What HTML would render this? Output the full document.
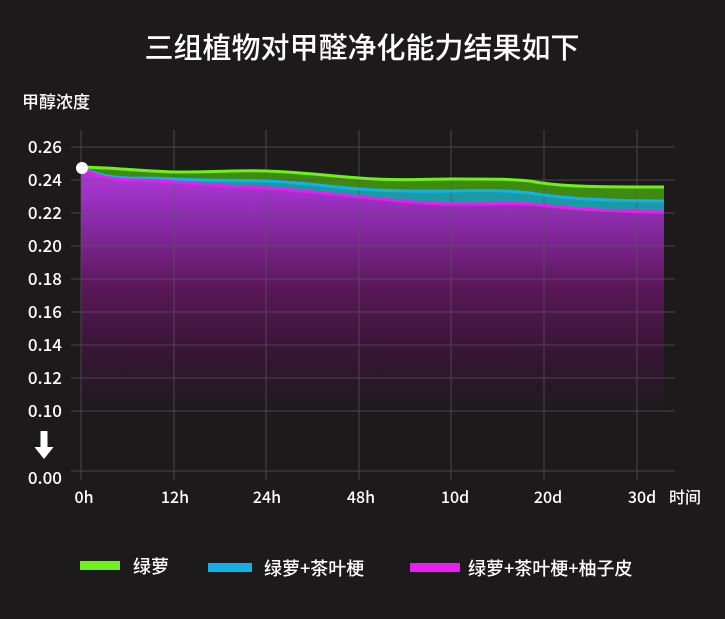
<!DOCTYPE html><html><head><meta charset="utf-8"><style>
html,body{margin:0;padding:0;background:#1c1a1b;width:725px;height:619px;overflow:hidden}
svg{display:block}
svg text{font-family:"Noto Sans CJK SC","Liberation Sans",sans-serif;fill:#fff}
</style></head><body>
<svg width="725" height="619" viewBox="0 0 725 619">
<defs>
<linearGradient id="pg" x1="0" y1="0" x2="0" y2="1">
<stop offset="0" stop-color="#b33be0"/><stop offset="0.2" stop-color="#8e2cb0"/><stop offset="0.5" stop-color="#5a1758"/><stop offset="0.8" stop-color="#321630"/><stop offset="1" stop-color="#1f1a20"/>
</linearGradient></defs>
<rect width="725" height="619" fill="#1c1a1b"/>
<text x="362" y="58" font-size="29" font-weight="500" text-anchor="middle">三组植物对甲醛净化能力结果如下</text>
<text x="22" y="108" font-size="17" font-weight="500">甲醇浓度</text>
<path d="M81,167 C120,168 140,171 174,172 C220,172 240,170 266,171 C300,172 330,176 359,178 C400,181 430,179 451,179 C500,179 510,179 530,181 C560,187 600,187 664,187 L664,410 L81,410Z" fill="#3f8a10"/>
<path d="M81,167 C95,174 105,177 130,178 C150,178 160,178 174,179 C220,181 240,180 266,181 C300,182 330,187 359,189 C400,192 430,191 451,191 C500,190 510,191 530,193 C560,198 600,201 664,201 L664,410 L81,410Z" fill="#1a9aa4"/>
<path d="M81,167 C95,176 105,179 130,180 C150,180 160,181 174,182 C220,186 240,187 266,188 C300,190 330,194 359,197 C400,201 430,204 451,204 C500,204 510,203 530,204 C560,207 600,212 664,212 L664,410 L81,410Z" fill="url(#pg)"/>
<g stroke="#5a585a" stroke-width="1" opacity="0.7">
<line x1="71" x2="675" y1="147" y2="147"/><line x1="71" x2="675" y1="180" y2="180"/><line x1="71" x2="675" y1="213" y2="213"/><line x1="71" x2="675" y1="246" y2="246"/><line x1="71" x2="675" y1="279" y2="279"/><line x1="71" x2="675" y1="312" y2="312"/><line x1="71" x2="675" y1="345" y2="345"/><line x1="71" x2="675" y1="378" y2="378"/><line x1="71" x2="675" y1="411" y2="411"/><line x1="71" x2="675" y1="471" y2="471"/>
<line x1="81" x2="81" y1="130" y2="480"/><line x1="174" x2="174" y1="130" y2="480"/><line x1="266" x2="266" y1="130" y2="480"/><line x1="359" x2="359" y1="130" y2="480"/><line x1="451" x2="451" y1="130" y2="480"/><line x1="544" x2="544" y1="130" y2="480"/><line x1="637" x2="637" y1="130" y2="480"/>
</g>
<path d="M81,167 C120,168 140,171 174,172 C220,172 240,170 266,171 C300,172 330,176 359,178 C400,181 430,179 451,179 C500,179 510,179 530,181 C560,187 600,187 664,187" fill="none" stroke="#6ef01a" stroke-width="3"/>
<path d="M81,167 C95,174 105,177 130,178 C150,178 160,178 174,179 C220,181 240,180 266,181 C300,182 330,187 359,189 C400,192 430,191 451,191 C500,190 510,191 530,193 C560,198 600,201 664,201" fill="none" stroke="#16b0e8" stroke-width="3"/>
<path d="M81,167 C95,176 105,179 130,180 C150,180 160,181 174,182 C220,186 240,187 266,188 C300,190 330,194 359,197 C400,201 430,204 451,204 C500,204 510,203 530,204 C560,207 600,212 664,212" fill="none" stroke="#e81ef0" stroke-width="3"/>
<circle cx="82" cy="168" r="6" fill="#fff"/>
<g font-size="17" text-anchor="end" font-weight="500">
<text x="62" y="153">0.26</text><text x="62" y="186">0.24</text><text x="62" y="219">0.22</text><text x="62" y="252">0.20</text><text x="62" y="285">0.18</text><text x="62" y="318">0.16</text><text x="62" y="351">0.14</text><text x="62" y="384">0.12</text><text x="62" y="417">0.10</text><text x="62" y="484">0.00</text>
</g>
<path d="M40.5,431 h7 v16 h6 l-9.5,12 l-9.5,-12 h6z" fill="#fff"/>
<g font-size="16" text-anchor="middle" font-weight="500">
<text x="84" y="503">0h</text><text x="175" y="503">12h</text><text x="267" y="503">24h</text><text x="361" y="503">48h</text><text x="455" y="503">10d</text><text x="548" y="503">20d</text><text x="642" y="503">30d</text>
</g>
<text x="669" y="503" font-size="16" font-weight="500">时间</text>
<rect x="80" y="561" width="40" height="9" fill="#6ef01a"/>
<rect x="208" y="563" width="44" height="9" fill="#16b0e8"/>
<rect x="410" y="563" width="50" height="9" fill="#e81ef0"/>
<g font-size="18" font-weight="500">
<text x="133" y="573">绿萝</text><text x="264" y="575">绿萝+茶叶梗</text><text x="468" y="575">绿萝+茶叶梗+柚子皮</text>
</g>
</svg></body></html>
